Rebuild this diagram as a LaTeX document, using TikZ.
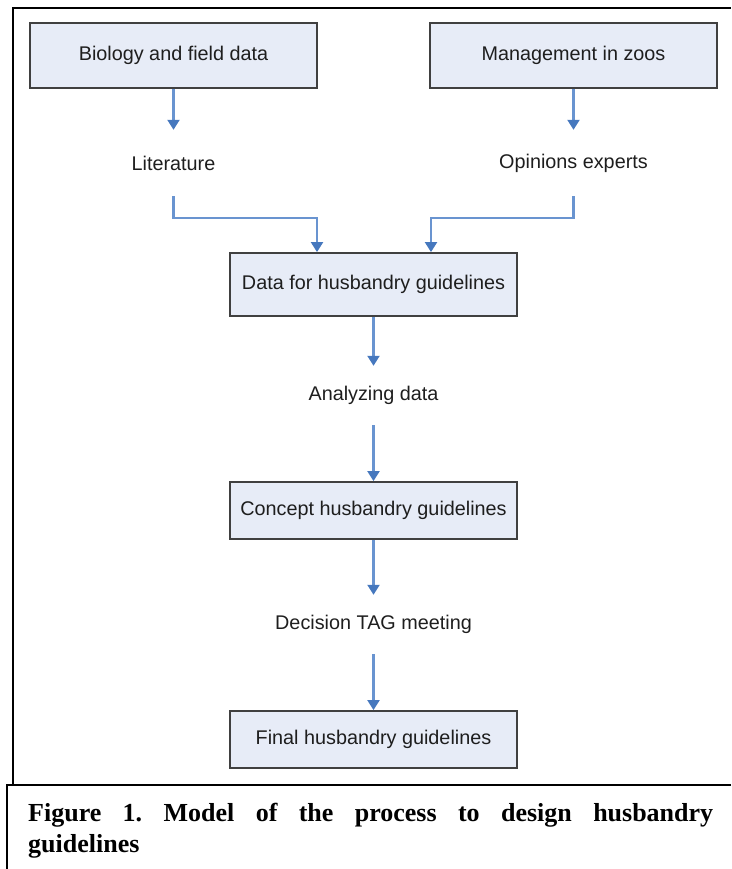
\documentclass[tikz,border=0pt]{standalone}
\usepackage{fontspec}
\setmainfont{Liberation Sans}
\newfontfamily\capfont{Liberation Serif}
\usetikzlibrary{arrows.meta,positioning}
\definecolor{boxfill}{RGB}{231,236,247}
\definecolor{boxline}{RGB}{64,64,64}
\definecolor{arrowblue}{RGB}{70,120,190}
\definecolor{lineblue}{RGB}{105,148,208}
\definecolor{txt}{RGB}{30,30,30}
\begin{document}
\begin{tikzpicture}[x=1pt,y=1pt,
  stepbox/.style={draw=boxline,line width=1.8pt,fill=boxfill,minimum width=287pt,inner sep=0pt,
    font=\fontsize{19.8}{23}\selectfont,text=txt},
  labeltext/.style={inner sep=0pt,minimum width=200pt,font=\fontsize{19.8}{23}\selectfont,text=txt},
  flow/.style={draw=lineblue,line width=2.1pt,-{Triangle[width=12pt,length=10pt,color=arrowblue]}},
  frameline/.style={draw=black,line width=1.6pt}]
\useasboundingbox (0,0) rectangle (731,-869);
% frames
\draw[frameline] (13,-785) -- (13,-8) -- (731,-8);
\draw[frameline] (731,-785) -- (7,-785) -- (7,-869);
% nodes
\node[stepbox,minimum height=65pt] (bio) at (173.5,-55.5) {Biology and field data};
\node[stepbox,minimum height=65pt] (mgmt) at (573.5,-55.5) {Management in zoos};
\node[labeltext,minimum height=66pt] (lit) at (173.5,-163) {Literature};
\node[labeltext,minimum height=66pt] (opin) at (573.5,-163) {Opinions experts};
\node[stepbox,minimum height=63pt] (data) at (373.5,-284.5) {Data for husbandry guidelines};
\node[labeltext,minimum height=59pt] (anal) at (373.5,-395.5) {Analyzing data};
\node[stepbox,minimum height=57pt] (concept) at (373.5,-510.5) {Concept husbandry guidelines};
\node[labeltext,minimum height=59pt] (dec) at (373.5,-624.5) {Decision TAG meeting};
\node[stepbox,minimum height=57pt] (final) at (373.5,-739.5) {Final husbandry guidelines};
% connectors
\draw[flow] (bio.south) -- (lit.north);
\draw[flow] (mgmt.south) -- (opin.north);
\draw[flow] (lit.south) -- ++(0,-22) -| ([xshift=-56.5pt]data.north);
\draw[flow] (opin.south) -- ++(0,-22) -| ([xshift=57.5pt]data.north);
\draw[flow] (data.south) -- (anal.north);
\draw[flow] (anal.south) -- (concept.north);
\draw[flow] (concept.south) -- (dec.north);
\draw[flow] (dec.south) -- (final.north);
% caption
\node[anchor=north west,inner sep=0pt,text width=685pt,align=justify,
  font=\capfont\bfseries\fontsize{26}{30.5}\selectfont\frenchspacing] (cap) at (28,-803)
  {Figure 1. Model of the process to design husbandry\linebreak guidelines};
\end{tikzpicture}
\end{document}
